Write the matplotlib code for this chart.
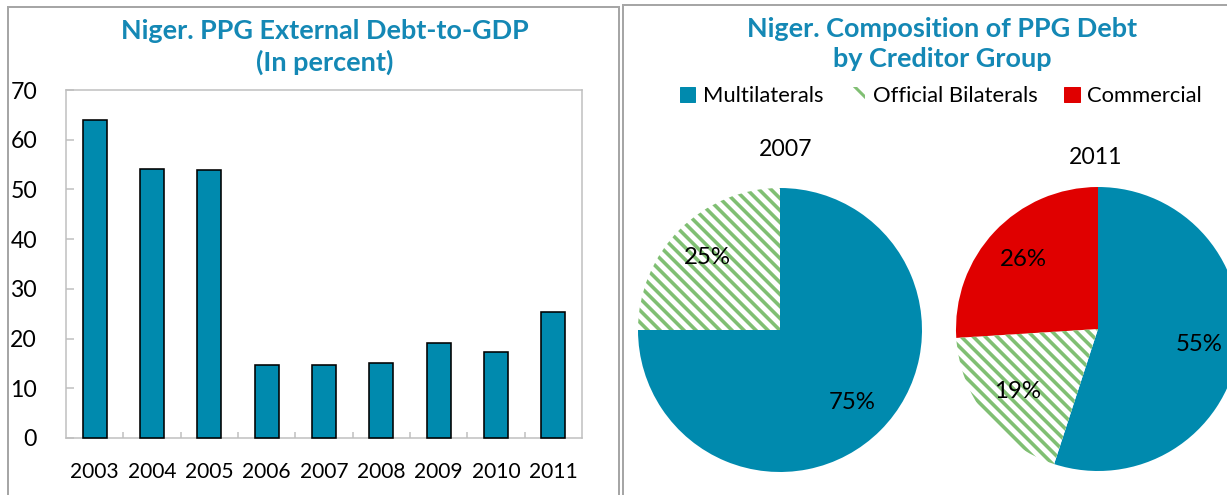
import matplotlib
matplotlib.use("Agg")
import matplotlib.pyplot as plt
from matplotlib.patches import Patch, Rectangle
import numpy as np

# ---- data ----
years = ["2003", "2004", "2005", "2006", "2007", "2008", "2009", "2010", "2011"]
debt_to_gdp = [64.0, 54.2, 53.9, 14.6, 14.6, 15.0, 19.1, 17.3, 25.4]
yticks = [0, 10, 20, 30, 40, 50, 60, 70]

groups = ["Multilaterals", "Official Bilaterals", "Commercial"]
share_2007 = [75, 25, 0]
share_2011 = [55, 19, 26]
pie_years = ["2007", "2011"]

# ---- style ----
W, H, DPI = 1227, 495, 72
plt.rcParams['font.family'] = ['Lato', 'DejaVu Sans']
plt.rcParams['hatch.linewidth'] = 3.0
TEAL = '#008AAE'
TITLE = '#1488B5'
RED = '#E00000'
GREEN = '#80BF73'
GRAY = '#BFBFBF'

fig = plt.figure(figsize=(W / DPI, H / DPI), dpi=DPI)
fig.patch.set_facecolor('white')

def fx(px):
    return px / W

def fy(py):
    return 1 - py / H

# panel borders
fig.patches.append(Rectangle((fx(8), fy(520)), fx(619) - fx(8), fy(7) - fy(520),
                             transform=fig.transFigure, fill=False,
                             edgecolor='#A6A6A6', linewidth=2))
fig.patches.append(Rectangle((fx(623), fy(520)), fx(1240) - fx(623), fy(5) - fy(520),
                             transform=fig.transFigure, fill=False,
                             edgecolor='#A6A6A6', linewidth=2))

# ---- left: bar chart ----
ax = fig.add_axes([fx(66), fy(438), fx(582) - fx(66), fy(90) - fy(438)])
x = np.arange(len(years))
ax.bar(x, debt_to_gdp, width=0.42, color=TEAL, edgecolor='black', linewidth=1.6,
       zorder=3, clip_on=False)
ax.set_xlim(-0.5, len(years) - 0.5)
ax.set_ylim(0, 70)
ax.set_yticks(yticks)
ax.set_xticks(x)
ax.set_xticklabels(years)
ax.set_xticks(np.arange(len(years) - 1) + 0.5, minor=True)
ax.tick_params(axis='x', which='major', length=0, pad=24, labelsize=21)
ax.tick_params(axis='x', which='minor', direction='in', length=6, color=GRAY, width=1.5)
ax.tick_params(axis='y', direction='in', length=8, color=GRAY, width=1.5, pad=29,
               labelsize=23)
for s in ax.spines.values():
    s.set_color(GRAY)
    s.set_linewidth(1.5)
fig.text(fx(325), fy(47), "Niger. PPG External Debt-to-GDP\n(In percent)",
         ha='center', va='center', fontsize=27, fontweight='bold', color=TITLE,
         linespacing=1.3)

# ---- right: pies ----
fig.text(fx(942), fy(44), "Niger. Composition of PPG Debt\nby Creditor Group",
         ha='center', va='center', fontsize=27, fontweight='bold', color=TITLE,
         linespacing=1.3)

colors = [TEAL, 'white', RED]

def draw_pie(cx, cy, r, shares):
    pax = fig.add_axes([fx(cx - r), fy(cy + r), fx(2 * r), fy(cy - r) - fy(cy + r)])
    vals = [v for v in shares if v > 0]
    cols = [c for v, c in zip(shares, colors) if v > 0]
    idx = [i for i, v in enumerate(shares) if v > 0]
    wedges, texts, autotexts = pax.pie(vals, colors=cols, startangle=90, counterclock=False,
                                       autopct=lambda p: f"{p:.0f}%", pctdistance=0.72,
                                       wedgeprops=dict(linewidth=0),
                                       textprops=dict(fontsize=24, color='black'))
    for t in autotexts:
        t.set_zorder(5)
    step = 12.0 / r  # stripe spacing (12 px horizontally)
    for w, i in zip(wedges, idx):
        w.set_clip_on(False)
        if i == 1:
            w.set_facecolor('white')
            # diagonal green stripes clipped to the wedge
            for c in np.arange(-2.2, 2.2, step):
                ln, = pax.plot([-1.2, 1.2], [-1.2 + c, 1.2 + c][::-1] if False else [1.2 + c, -1.2 + c],
                               color=GREEN, linewidth=3.6, solid_capstyle='butt', zorder=2)
                ln.set_clip_path(w)
    pax.set_xlim(-1, 1)
    pax.set_ylim(-1, 1)
    pax.set_aspect('auto')
    pax.axis('off')
    return pax

draw_pie(780, 330, 142, share_2007)
draw_pie(1098, 329, 142, share_2011)
fig.text(fx(786), fy(150), pie_years[0], ha='center', va='center', fontsize=23)
fig.text(fx(1096), fy(157), pie_years[1], ha='center', va='center', fontsize=23)

handles = [Patch(facecolor=TEAL, edgecolor=TEAL),
           Patch(facecolor='white', edgecolor=GREEN, hatch='\\', linewidth=0),
           Patch(facecolor=RED, edgecolor=RED)]
fig.legend(handles, groups, loc='center', bbox_to_anchor=(fx(941), fy(96)), ncol=3,
           frameon=False, fontsize=22, handlelength=0.7, handleheight=0.7,
           handletextpad=0.35, columnspacing=1.2, borderaxespad=0, borderpad=0)

fig.savefig("out.png", dpi=DPI, facecolor='white')
